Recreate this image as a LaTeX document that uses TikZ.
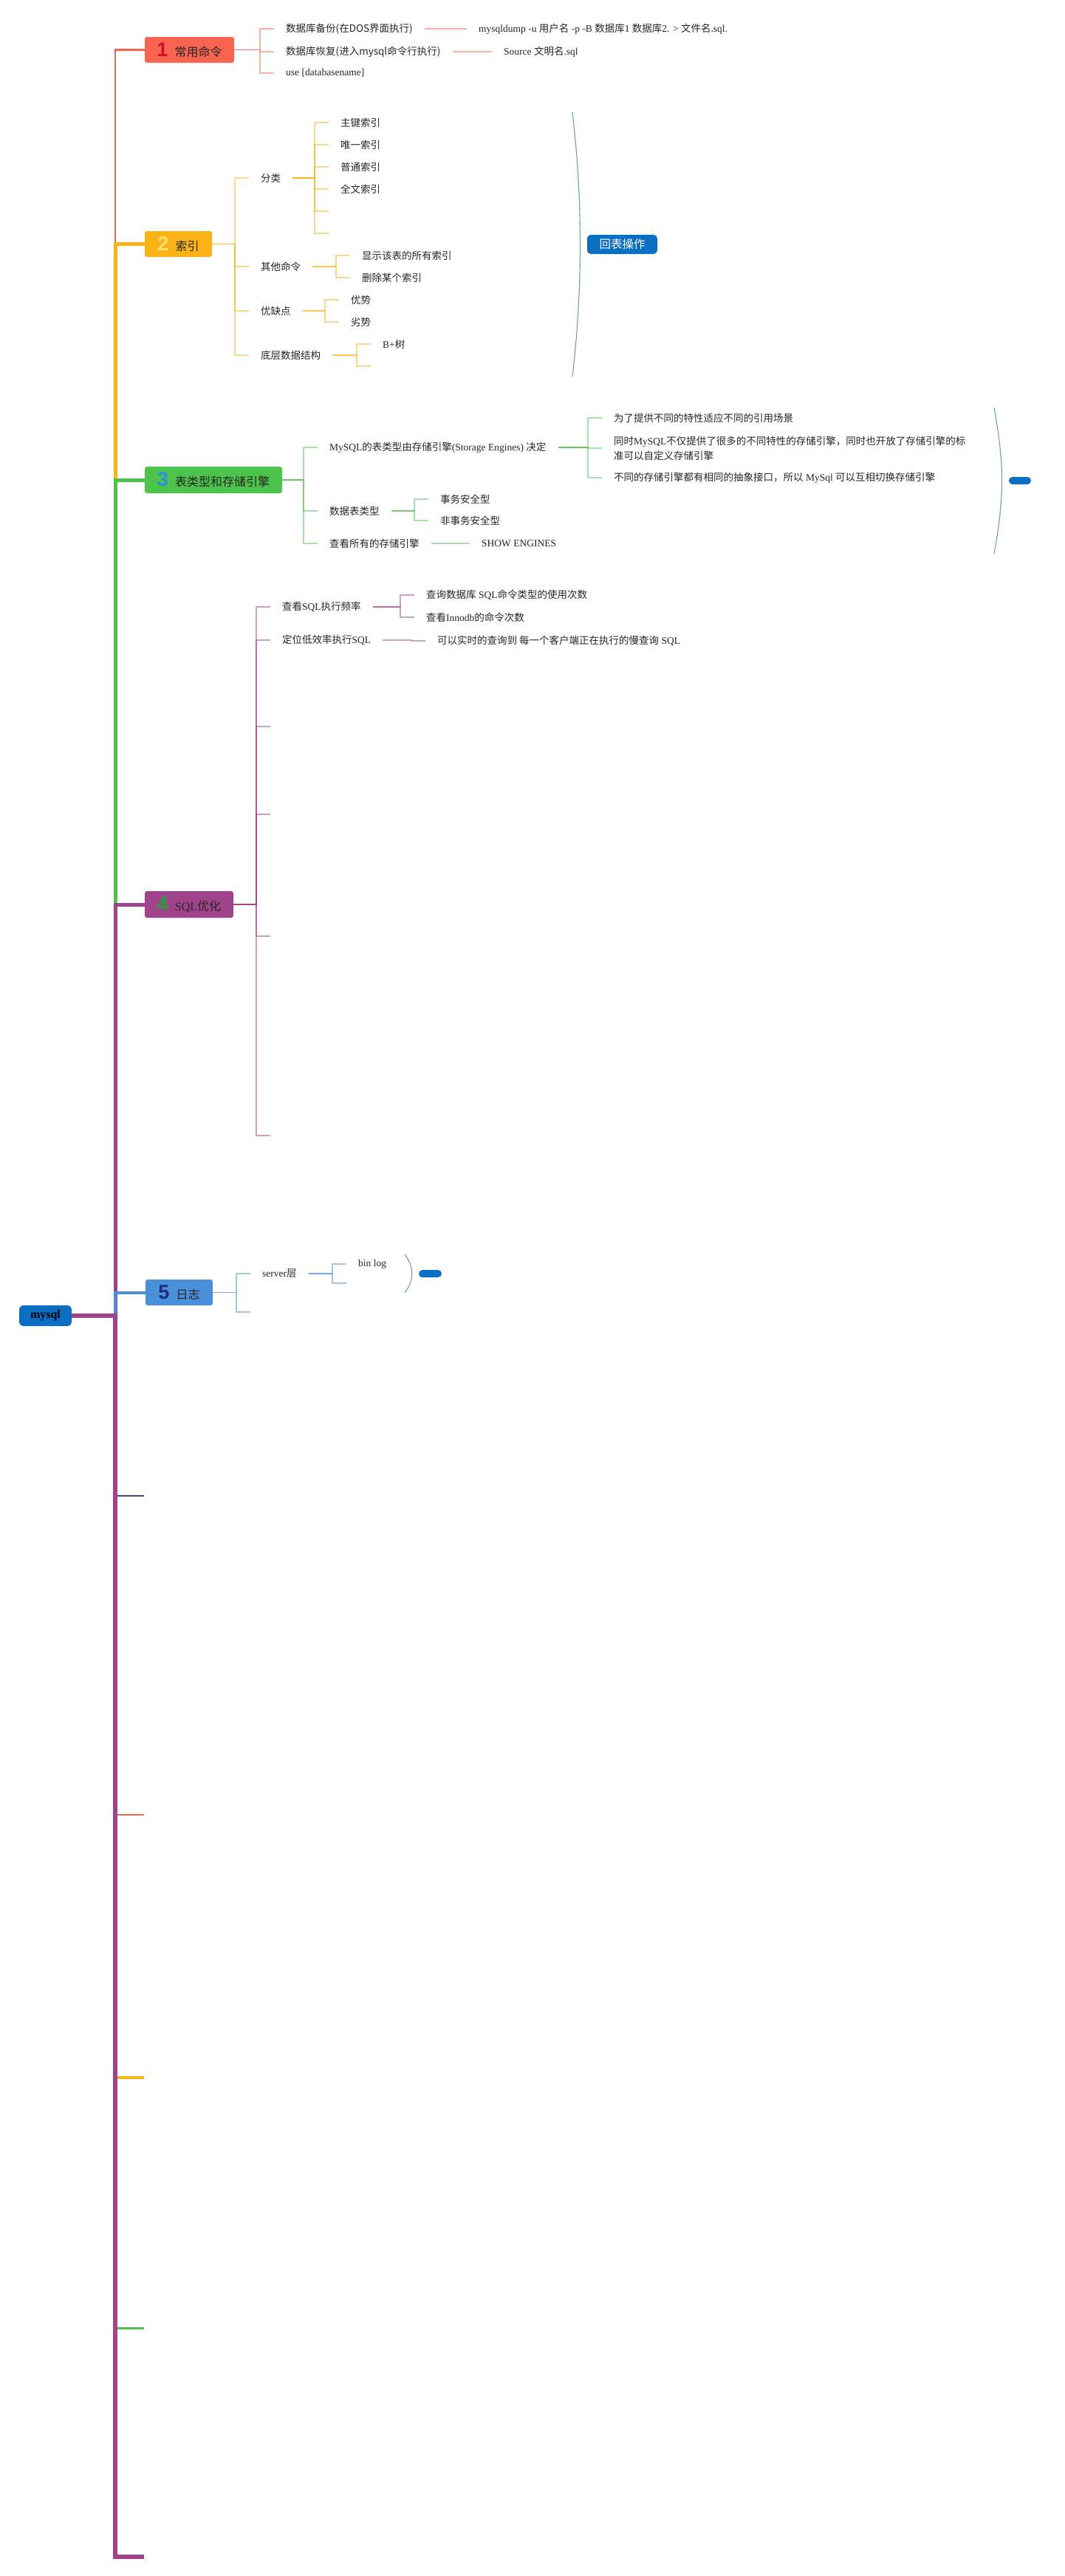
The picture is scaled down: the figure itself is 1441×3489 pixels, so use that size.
\documentclass[tikz,border=0pt]{standalone}
\usepackage{fontspec}
\setmainfont{Liberation Serif}
\newfontfamily\cjk{Noto Sans CJK SC}
\newfontfamily\numfont{Liberation Sans}
\newcommand{\en}[1]{{\rmfamily #1}}
\newcommand{\mnum}[2]{{\numfont\bfseries\fontsize{27}{27}\selectfont\textcolor{#1}{#2}}\hspace{9pt}}
% elbow link: parent east -> bracket -> child west
\newcommand{\lnk}[3]{
\path ([xshift=-19pt]#3.west) coordinate (brk);
\draw[sub,#1] (#2.east) -- (#2.east -| brk) |- (#3.west);}

\definecolor{brred}{HTML}{F8644F}
\definecolor{brorange}{HTML}{FBB317}
\definecolor{brgreen}{HTML}{4DC34B}
\definecolor{brpurple}{HTML}{A0438D}
\definecolor{brblue}{HTML}{4A8FDA}
\definecolor{brindigo}{HTML}{4B3B9A}
\definecolor{rootblue}{HTML}{0B6EC2}
\definecolor{sumgreen}{HTML}{6AA596}
\definecolor{nored}{HTML}{D0102A}
\definecolor{noyellow}{HTML}{FFE46B}
\definecolor{noblue}{HTML}{2A8FE0}
\definecolor{nogreen}{HTML}{1EA336}
\definecolor{nonavy}{HTML}{1C2C80}

\tikzset{
  topic/.style={anchor=west, inner xsep=16pt, inner ysep=2pt, text=black!85,
    font=\cjk\fontsize{13.5}{20}\selectfont},
  mainbox/.style={rounded corners=3pt, minimum height=35pt, inner sep=0pt,
    text=black!85, font=\cjk\fontsize{16}{18}\selectfont},
  rootbox/.style={fill=rootblue, rounded corners=6pt, minimum width=71pt,
    minimum height=28pt, inner sep=0pt, font=\fontsize{16}{18}\selectfont},
  pill/.style={fill=rootblue, rounded corners=5pt, inner sep=0pt},
  sub/.style={line width=1.5pt, draw opacity=.5},
  sumline/.style={draw=sumgreen, line width=1.1pt}
}

\begin{document}
\begin{tikzpicture}[x=1pt,y=-1pt]
\fill[white] (0,0) rectangle (1441,3489);
\useasboundingbox (0,0) rectangle (1441,3489);

% root and main topics
\node[rootbox] (root) at (61.5,1782) {\en{\bfseries mysql}};
\node[mainbox, fill=brred, minimum width=121pt] (b1) at (256.5,67.5) {\mnum{nored}{1}常用命令};
\node[mainbox, fill=brorange, minimum width=91pt] (b2) at (241.5,330.5) {\mnum{noyellow}{2}索引};
\node[mainbox, fill=brgreen, minimum width=186pt, minimum height=36pt] (b3) at (289,650) {\mnum{noblue}{3}表类型和存储引擎};
\node[mainbox, fill=brpurple, minimum width=120pt, minimum height=36pt] (b4) at (256,1225) {\mnum{nogreen}{4}\en{SQL}优化};
\node[mainbox, fill=brblue, minimum width=91pt] (b5) at (242.5,1750.5) {\mnum{nonavy}{5}日志};
\foreach \e/\y in {e6/2026, e7/2458, e8/2814, e9/3153, e10/3463}
  \node[inner sep=0pt] (\e) at (196,\y) {};

\coordinate (jn) at (156,1782);
\foreach \b/\c/\w in {b1/brred/2.5, b2/brorange/5, b3/brgreen/5, b4/brpurple/5, b5/brblue/4,
    e6/brindigo/2.5, e7/brred/2.5, e8/brorange/3.5, e9/brgreen/3, e10/brpurple/6}
  \draw[\c, line width=\w pt] (root.east) -- (jn) |- (\b.west);

% 1 常用命令
\node[topic] (c11) at (371,39) {数据库备份(在DOS界面执行)};
\node[topic] (c12) at (371,70) {数据库恢复(进入mysql命令行执行)};
\node[topic] (c13) at (371,99) {\en{use [databasename]}};
\node[topic] (c111) at (632,39) {\en{mysqldump -u }用户名\en{ -p -B }数据库\en{1 }数据库\en{2. > }文件名\en{.sql.}};
\node[topic] (c121) at (666,70) {\en{Source }文明名\en{.sql}};
\foreach \p/\c in {b1/c11, b1/c12, b1/c13, c11/c111, c12/c121}
  {\lnk{brred}{\p}{\c}}

% 2 索引
\node[topic] (c21) at (337,241) {分类};
\node[topic] (c22) at (337,361) {其他命令};
\node[topic] (c23) at (337,421) {优缺点};
\node[topic] (c24) at (337,481) {底层数据结构};
\foreach \n/\y/\t in {1/166/主键索引, 2/196/唯一索引, 3/226/普通索引, 4/256/全文索引, 5/286/, 6/316/}
  \node[topic] (c21\n) at (445,\y) {\t};
\node[topic] (c221) at (474,346) {显示该表的所有索引};
\node[topic] (c222) at (474,376) {删除某个索引};
\node[topic] (c231) at (459,406) {优势};
\node[topic] (c232) at (459,436) {劣势};
\node[topic] (c241) at (502,466) {\en{B+}树};
\node[topic] (c242) at (502,496) {};
\foreach \p/\c in {b2/c21, b2/c22, b2/c23, b2/c24, c21/c211, c21/c212, c21/c213, c21/c214,
    c21/c215, c21/c216, c22/c221, c22/c222, c23/c231, c23/c232, c24/c241, c24/c242}
  {\lnk{brorange}{\p}{\c}}
\draw[sumline] (775,152) .. controls (789,270) and (789,392) .. (775,510);
\node[pill, minimum width=95pt, minimum height=26pt, text=white,
  font=\cjk\fontsize{15.5}{18}\selectfont] (hb) at (842.5,331) {回表操作};

% 3 表类型和存储引擎
\node[topic] (c31) at (430,606) {\en{MySQL}的表类型由存储引擎\en{(Storage Engines) }决定};
\node[topic] (c32) at (430,692) {数据表类型};
\node[topic] (c33) at (430,736) {查看所有的存储引擎};
\node[topic] (c311) at (815,566) {为了提供不同的特性适应不同的引用场景};
\node[topic, align=left] (c312) at (815,607) {同时\en{MySQL}不仅提供了很多的不同特性的存储引擎，同时也开放了存储引擎的标\\准可以自定义存储引擎};
\node[topic] (c313) at (815,647) {不同的存储引擎都有相同的抽象接口，所以\en{ MySql }可以互相切换存储引擎};
\node[topic] (c321) at (580,676) {事务安全型};
\node[topic] (c322) at (580,705) {非事务安全型};
\node[topic] (c331) at (636,736) {\en{SHOW ENGINES}};
\foreach \p/\c in {b3/c31, b3/c32, b3/c33, c31/c311, c31/c312, c31/c313, c32/c321, c32/c322, c33/c331}
  {\lnk{brgreen}{\p}{\c}}
\draw[sumline] (1346,552) .. controls (1360,630) and (1360,672) .. (1346,750);
\node[pill, minimum width=30pt, minimum height=10pt] (sm3) at (1381,651) {};

% 4 SQL优化
\node[topic] (c41) at (366,822) {查看\en{SQL}执行频率};
\node[topic] (c42) at (366,867) {定位低效率执行\en{SQL}};
\foreach \n/\y in {3/984, 4/1103, 5/1268, 6/1538}
  \node[topic] (c4\n) at (366,\y) {};
\node[topic] (c411) at (561,806) {查询数据库\en{ SQL}命令类型的使用次数};
\node[topic] (c412) at (561,836) {查看\en{Innodb}的命令次数};
\node[topic] (c421) at (576,868) {可以实时的查询到 每一个客户端正在执行的慢查询\en{ SQL}};
\foreach \p/\c in {b4/c41, b4/c42, b4/c43, b4/c44, b4/c45, b4/c46, c41/c411, c41/c412, c42/c421}
  {\lnk{brpurple}{\p}{\c}}

% 5 日志
\node[topic] (c51) at (339,1725) {\en{server}层};
\node[topic] (c52) at (339,1777) {};
\node[topic] (c511) at (469,1712) {\en{bin log}};
\node[topic] (c512) at (469,1738) {};
\foreach \p/\c in {b5/c51, b5/c52, c51/c511, c51/c512}
  {\lnk{brblue}{\p}{\c}}
\draw[sumline] (548,1699) .. controls (561,1716) and (561,1734) .. (548,1751);
\node[pill, minimum width=31pt, minimum height=10pt] (sm5) at (582.5,1725) {};

\end{tikzpicture}
\end{document}
